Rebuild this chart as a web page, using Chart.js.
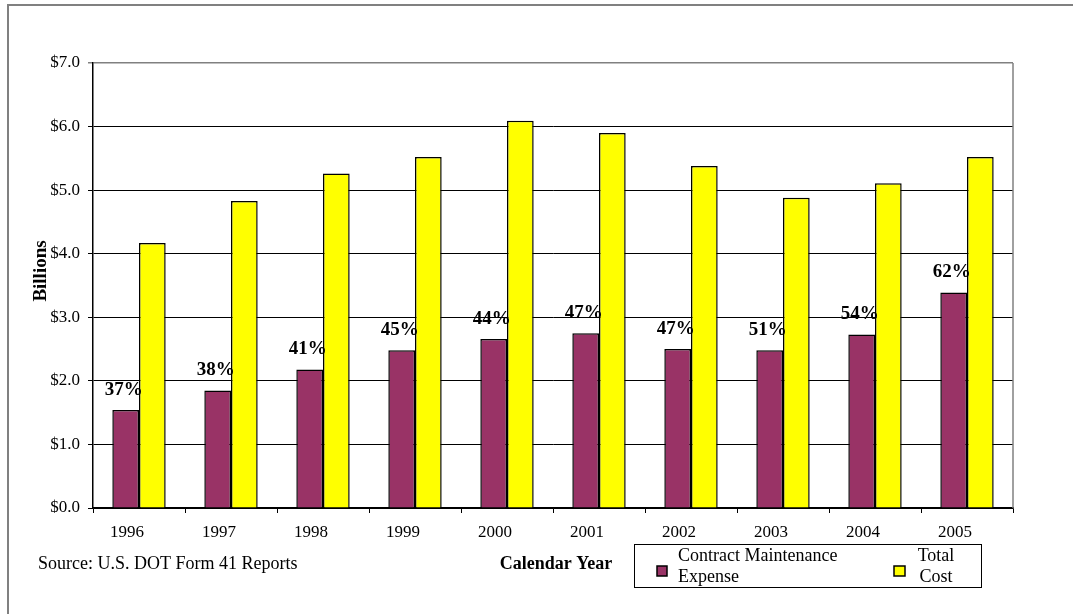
<!DOCTYPE html>
<html>
<head>
<meta charset="utf-8">
<script src="https://cdn.jsdelivr.net/npm/chart.js@4.4.1/dist/chart.umd.min.js"></script>
<style>
  html, body { margin: 0; padding: 0; background: #fff; }
  #wrap { position: relative; width: 1073px; height: 614px; }
</style>
</head>
<body>
<div id="wrap"><canvas id="chart" width="1073" height="614"></canvas></div>
<script>
// data
const years = ["1996", "1997", "1998", "1999", "2000", "2001", "2002", "2003", "2004", "2005"];
const maintenance = [1.54, 1.85, 2.18, 2.48, 2.66, 2.75, 2.50, 2.48, 2.73, 3.39];
const totalCost = [4.17, 4.83, 5.26, 5.52, 6.09, 5.90, 5.38, 4.88, 5.11, 5.52];
const shareLabels = ["37%", "38%", "41%", "45%", "44%", "47%", "47%", "51%", "54%", "62%"];
const yTicks = [0, 1, 2, 3, 4, 5, 6, 7];

const SERIF = "'Liberation Serif', 'Times New Roman', serif";
const PURPLE = "#993366";
const YELLOW = "#FFFF00";

// frame, percentage labels, axis titles and legend
const decorations = {
    id: "decorations",
    beforeDraw(chart) {
        const ctx = chart.ctx;
        const area = chart.chartArea;
        ctx.save();
        ctx.strokeStyle = "#808080";
        ctx.lineWidth = 2;
        ctx.beginPath();
        ctx.moveTo(8, 614);
        ctx.lineTo(8, 5);
        ctx.lineTo(1073, 5);
        ctx.stroke();
        ctx.restore();
    },
    afterDatasetsDraw(chart) {
        // gray right edge of the plot area
        const ctx = chart.ctx;
        const area = chart.chartArea;
        ctx.save();
        ctx.strokeStyle = "#808080";
        ctx.lineWidth = 1.5;
        ctx.beginPath();
        ctx.moveTo(area.right, area.top);
        ctx.lineTo(area.right, area.bottom);
        ctx.stroke();
        ctx.restore();
    },
    afterDraw(chart) {
        const ctx = chart.ctx;
        const meta = chart.getDatasetMeta(0);
        ctx.save();
        ctx.fillStyle = "#000";
        ctx.font = "bold 19px " + SERIF;
        ctx.textAlign = "center";
        ctx.textBaseline = "middle";
        meta.data.forEach((bar, i) => {
            ctx.fillText(shareLabels[i], bar.x - 2, bar.y - 20);
        });

        // y axis title
        ctx.save();
        ctx.translate(41, 271);
        ctx.rotate(-Math.PI / 2);
        ctx.font = "bold 19px " + SERIF;
        ctx.fillText("Billions", 0, 0);
        ctx.restore();

        ctx.font = "18px " + SERIF;
        ctx.textAlign = "left";
        ctx.fillText("Source: U.S. DOT Form 41 Reports", 38, 564);
        ctx.font = "bold 18px " + SERIF;
        ctx.textAlign = "center";
        ctx.fillText("Calendar Year", 556, 564);

        // legend
        ctx.strokeStyle = "#000";
        ctx.lineWidth = 1;
        ctx.strokeRect(634.5, 544.5, 347, 43);
        ctx.lineWidth = 1.5;
        ctx.fillStyle = PURPLE;
        ctx.fillRect(657, 566, 10, 10);
        ctx.strokeRect(657, 566, 10, 10);
        ctx.fillStyle = YELLOW;
        ctx.fillRect(894, 566, 11, 10);
        ctx.strokeRect(894, 566, 11, 10);
        ctx.fillStyle = "#000";
        ctx.font = "18px " + SERIF;
        ctx.textAlign = "left";
        ctx.fillText("Contract Maintenance", 678, 556);
        ctx.fillText("Expense", 678, 577);
        ctx.textAlign = "center";
        ctx.fillText("Total", 936, 556);
        ctx.fillText("Cost", 936, 577);
        ctx.restore();
    }
};

new Chart(document.getElementById("chart").getContext("2d"), {
    type: "bar",
    data: {
        labels: years,
        datasets: [
            {
                label: "Contract Maintenance Expense",
                data: maintenance,
                backgroundColor: PURPLE,
                borderColor: "#000",
                borderWidth: 1.5,
                borderSkipped: "bottom",
                categoryPercentage: 0.58,
                barPercentage: 1.0
            },
            {
                label: "Total Cost",
                data: totalCost,
                backgroundColor: YELLOW,
                borderColor: "#000",
                borderWidth: 1.5,
                borderSkipped: "bottom",
                categoryPercentage: 0.58,
                barPercentage: 1.0
            }
        ]
    },
    options: {
        responsive: false,
        animation: false,
        devicePixelRatio: 1,
        layout: { padding: { left: 0, top: 63, right: 60, bottom: 0 } },
        plugins: {
            legend: { display: false },
            tooltip: { enabled: false }
        },
        scales: {
            x: {
                offset: true,
                grid: {
                    offset: true,
                    drawOnChartArea: false,
                    drawTicks: true,
                    tickLength: 5,
                    color: "#000"
                },
                border: { color: "#000", width: 1.5 },
                ticks: {
                    color: "#000",
                    font: { family: SERIF, size: 17 },
                    padding: 9,
                    labelOffset: -12,
                    maxRotation: 0
                },
                afterFit(scale) { scale.height = 106; }
            },
            y: {
                min: 0,
                max: 7,
                afterBuildTicks(scale) {
                    scale.ticks = yTicks.map(v => ({ value: v }));
                },
                grid: {
                    color: c => (c.tick && c.tick.value === 7 ? "#808080" : "#000"),
                    lineWidth: c => (c.tick && c.tick.value === 7 ? 1.5 : 1),
                    tickLength: 5,
                    drawTicks: true
                },
                border: { color: "#000", width: 1.5 },
                ticks: {
                    color: "#000",
                    font: { family: SERIF, size: 17 },
                    padding: 8,
                    callback: v => "$" + Number(v).toFixed(1)
                },
                afterFit(scale) { scale.width = 93; }
            }
        }
    },
    plugins: [decorations]
});
</script>
</body>
</html>
